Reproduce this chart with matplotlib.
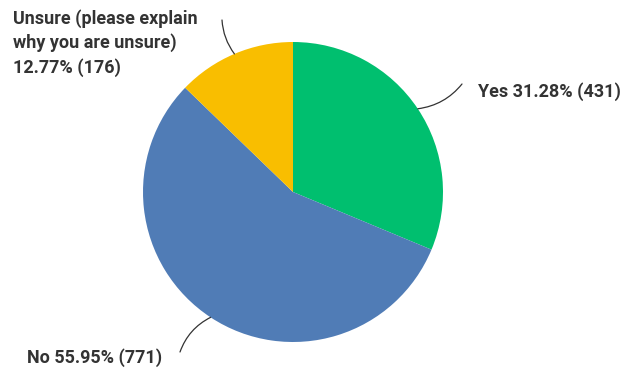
import numpy as np
import matplotlib.pyplot as plt

labels = ['Yes', 'No', 'Unsure (please explain\nwhy you are unsure)']
percents = [31.28, 55.95, 12.77]
counts = [431, 771, 176]
colors = ['#00bf6f', '#507cb6', '#f9be00']

plt.rcParams['font.family'] = ['Roboto', 'DejaVu Sans']

fig = plt.figure(figsize=(6.38, 3.70), dpi=100)
ax = fig.add_axes([0, 0, 1, 1])
ax.set_xlim(0, 638)
ax.set_ylim(0, 370)
ax.set_aspect('equal')
ax.axis('off')

cx, cy, r = 293, 178, 150
ax.pie(percents, colors=colors, startangle=90, counterclock=False,
       center=(cx, cy), radius=r, wedgeprops={'linewidth': 0})
ax.set_xlim(0, 638)
ax.set_ylim(0, 370)

# label text positions and leader curvature for each slice
text_pos = [(478, 278), (27, 12), (13, 361)]
text_va = ['center', 'center', 'top']
line_end = [(462, 286), (180, 18), (222, 350)]
rads = [-0.2, -0.2, 0.15]

start = 90.0
for i, p in enumerate(percents):
    sweep = 360.0 * p / 100.0
    mid = np.deg2rad(start - sweep / 2)
    start -= sweep
    px = cx + r * np.cos(mid)
    py = cy + r * np.sin(mid)
    ax.annotate('', xy=(px, py), xytext=line_end[i],
                arrowprops=dict(arrowstyle='-', color='#333333', lw=0.9,
                                connectionstyle='arc3,rad=%s' % rads[i],
                                shrinkA=0, shrinkB=0))
    if '\n' in labels[i]:
        txt = '%s\n%.2f%% (%d)' % (labels[i], p, counts[i])
    else:
        txt = '%s %.2f%% (%d)' % (labels[i], p, counts[i])
    ax.text(text_pos[i][0], text_pos[i][1], txt, ha='left', va=text_va[i],
            fontsize=13, fontweight='bold', color='#333333', linespacing=1.4)

fig.savefig('out.png', dpi=100)
